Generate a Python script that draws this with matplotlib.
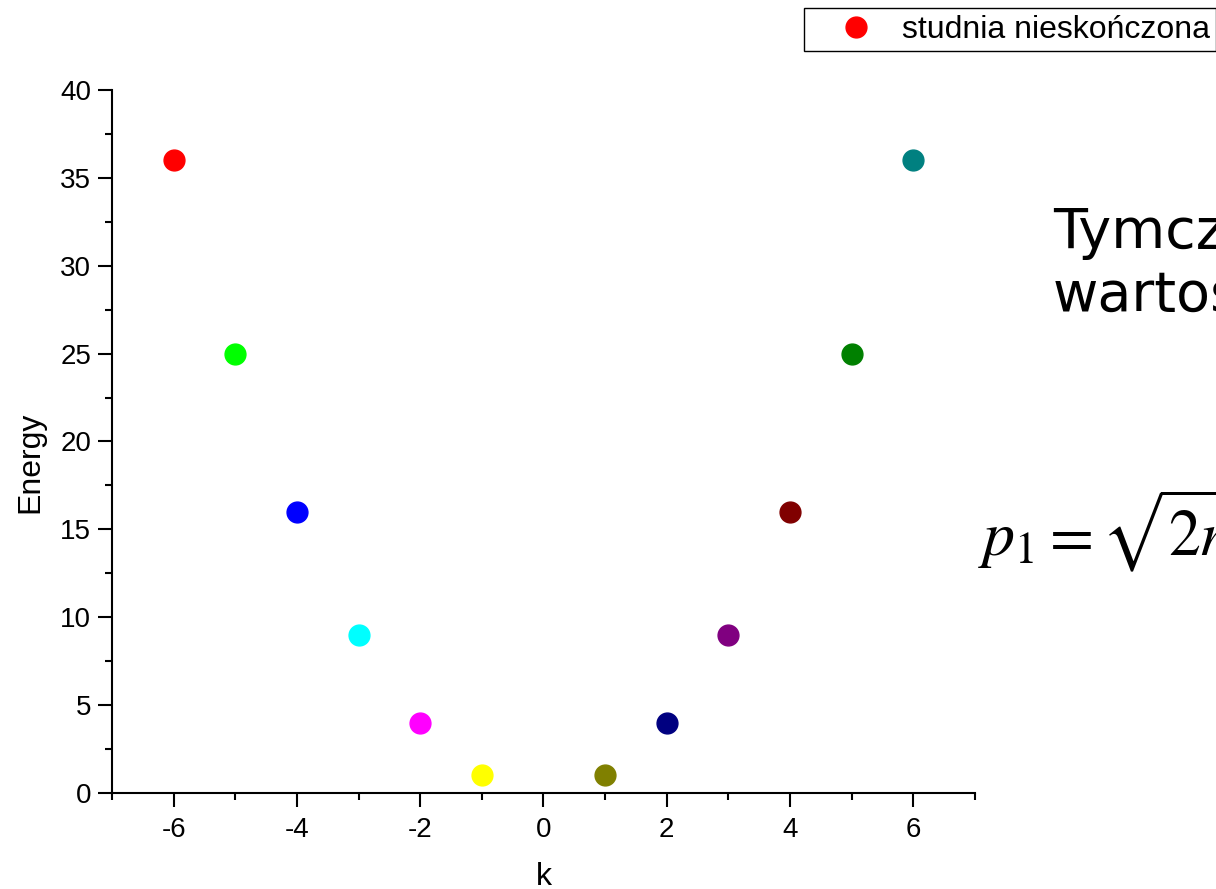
import numpy as np
from matplotlib import pyplot as plt
from matplotlib.ticker import MultipleLocator

plt.rcParams["font.family"] = ["Liberation Sans", "DejaVu Sans"]
plt.rcParams["mathtext.fontset"] = "stix"
plt.rcParams["axes.unicode_minus"] = False

# data
k_vals = [-6, -5, -4, -3, -2, -1, 1, 2, 3, 4, 5, 6]
energy = [36, 25, 16, 9, 4, 1, 1, 4, 9, 16, 25, 36]
point_colors = ["#ff0000", "#00ff00", "#0000ff", "#00ffff", "#ff00ff", "#ffff00",
                "#808000", "#000080", "#800080", "#800000", "#008000", "#008080"]
series_label = "studnia nieskończona"

fig = plt.figure(figsize=(12.16, 8.89), dpi=100)
ax = fig.add_axes([0.0921, 0.108, 0.7097, 0.7908])

for i in range(len(k_vals)):
    ax.plot(k_vals[i], energy[i], "o", color=point_colors[i], markersize=15,
            label=series_label if i == 0 else None, clip_on=False)

ax.set_xlim(-7, 7)
ax.set_ylim(0, 40)
ax.xaxis.set_major_locator(MultipleLocator(2))
ax.xaxis.set_minor_locator(MultipleLocator(1))
ax.yaxis.set_major_locator(MultipleLocator(5))
ax.yaxis.set_minor_locator(MultipleLocator(2.5))
ax.spines["top"].set_visible(False)
ax.spines["right"].set_visible(False)
for s in ["left", "bottom"]:
    ax.spines[s].set_linewidth(1.5)
ax.tick_params(which="major", direction="out", length=10, width=1.5, labelsize=20)
ax.tick_params(axis="x", which="major", pad=7)
ax.tick_params(axis="y", which="major", pad=5)
ax.tick_params(which="minor", direction="out", length=5, width=1.5)

ax.set_xlabel("k", fontsize=23, labelpad=14)
ax.set_ylabel("Energy", fontsize=23)
ax.yaxis.set_label_coords(-0.077, 0.471)

leg = fig.legend(loc="upper left", bbox_to_anchor=(804 / 1216, 1 - 8 / 889), fontsize=23,
                 frameon=True, fancybox=False, edgecolor="black", framealpha=1,
                 borderpad=0.21, handlelength=2.85, handletextpad=0.0, borderaxespad=0)
leg.get_frame().set_linewidth(1.0)

fig.text(1053 / 1216, 1 - 248 / 889, "Tymczasowe", fontsize=40,
         family="DejaVu Sans", ha="left", va="baseline")
fig.text(1053 / 1216, 1 - 312 / 889, "wartości", fontsize=40,
         family="DejaVu Sans", ha="left", va="baseline")

# formula pieces, spaced like the original equation object
fy = 1 - 555 / 889
fig.text(978 / 1216, fy, r"$p_1$", fontsize=46, ha="left", va="baseline")
fig.text(1040 / 1216, fy, r"$=$", fontsize=46, ha="left", va="baseline")
fig.text(1101 / 1216, fy, r"$\sqrt{2mE}$", fontsize=46, ha="left", va="baseline")

plt.savefig("out.png", dpi=100)
